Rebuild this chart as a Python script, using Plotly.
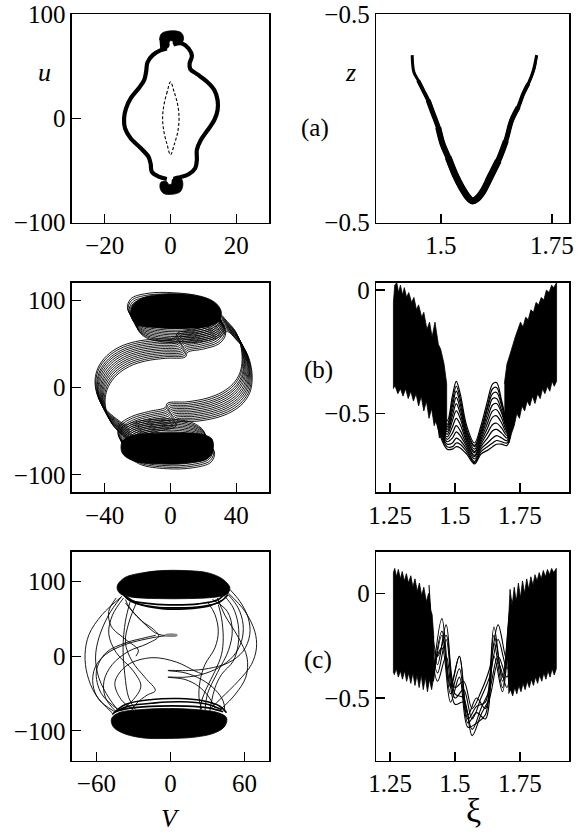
import plotly.graph_objects as go

FONT = "Liberation Serif"

# ---------------- panel (a) left : u vs V ----------------
a_loop_right_V = [0.9, 3.5, 5.5, 6.5, 5.8, 6.0, 8.2, 11.1, 13.3, 14.3, 14.3, 13.3, 11.3, 9.2, 8.0, 8.0, 7.5, 5.5, 2.4, 0.9]
a_loop_right_u = [70.9, 71.8, 67.0, 60.0, 52.6, 47.2, 42.1, 35.1, 27.1, 17.5, 7.9, -1.6, -11.2, -20.7, -30.3, -39.9, -47.9, -53.6, -56.8, -58.1]
a_loop_left_V = [-1.1, -3.6, -5.7, -6.0, -6.7, -9.0, -12.1, -13.8, -14.1, -13.5, -12.1, -9.7, -8.0, -7.4, -7.0, -5.4, -3.1, -1.1]
a_loop_left_u = [-58.1, -55.9, -51.1, -44.0, -36.7, -28.7, -19.1, -9.6, 0.0, 9.6, 19.1, 28.7, 36.7, 44.7, 53.6, 60.6, 65.1, 67.0]
a_cap_top_V = [-3.34, -2.93, -1.61, 1.94, 3.46, 3.97, 3.16, 0.92, 0.72, -0.29, -0.50, -1.61, -3.14]
a_cap_top_u = [75.0, 80.4, 83.0, 83.6, 81.4, 76.0, 71.8, 70.9, 74.0, 74.0, 68.6, 66.4, 67.0]
a_cap_bot_V = [0.42, 1.43, 3.16, 3.76, 2.95, 0.42, -2.12, -3.14, -2.93, -1.11, -0.60, 0.21]
a_cap_bot_u = [-59.1, -56.9, -57.5, -63.2, -70.3, -72.8, -71.9, -67.1, -61.3, -60.7, -63.2, -63.2]
a_lens_V = [0.0, -1.0, -2.0, -2.4, -2.0, -1.0, 0.0, 1.1, 2.2, 2.6, 2.2, 1.1, 0.0]
a_lens_u = [35.0, 25.5, 12.7, 0.0, -12.8, -25.5, -35.0, -25.5, -12.8, 0.0, 12.7, 25.5, 35.0]

# ---------------- panel (a) right : z vs xi ----------------
a_band_xi = [1.4354, 1.4392, 1.4489, 1.4602, 1.4715, 1.4827, 1.4940, 1.5038, 1.5165, 1.5315, 1.5466, 1.5616, 1.5713,
             1.5803, 1.5953, 1.6104, 1.6291, 1.6464, 1.6592, 1.6742, 1.6854, 1.6967, 1.7080, 1.7155]
a_band_z = [0.303, 0.222, 0.182, 0.134, 0.086, 0.022, -0.043, -0.123, -0.187, -0.267, -0.331, -0.380, -0.396,
            -0.387, -0.347, -0.283, -0.203, -0.107, -0.010, 0.054, 0.118, 0.166, 0.230, 0.303]
a_strand_xi = [1.6464, 1.6600, 1.6740, 1.6880, 1.7000, 1.7120, 1.7165]
a_strand_z = [-0.100, -0.020, 0.045, 0.120, 0.170, 0.240, 0.300]

# ---------------- panel (b) left : u vs V ----------------
b_strand_V = [-23.5, -31.6, -38.1, -41.8, -42.8, -40.8, -35.7, -28.0, -18.4, -6.3, 5.9, 7.3,
              17.0, 26.2, 30.2, 29.2, 21.1, 4.9, -11.3, -21.1, -23.1, -18.4, -5.3, 13.0, 26.2, 31.3,
              37.3, 42.4, 45.5, 46.5, 45.1, 41.0, 34.3, 25.2, 13.0, 1.2, -0.2,
              -10.3, -20.5, -28.0, -28.6, -21.5, -5.3, 11.0, 21.5, 23.6, 18.1, 4.9, -11.3, -21.5, -23.5]
b_strand_u = [-54.0, -44.4, -32.2, -17.6, -2.3, 12.2, 25.2, 35.2, 41.3, 44.4, 45.9, 51.3,
              55.1, 60.9, 70.5, 82.0, 92.7, 97.3, 96.5, 90.4, 78.9, 68.5, 62.8, 62.8, 68.5, 75.0,
              64.7, 53.2, 37.9, 20.7, 5.3, -6.9, -16.5, -23.4, -27.6, -29.1, -34.1,
              -38.7, -44.4, -54.0, -66.6, -77.0, -82.0, -80.8, -74.5, -63.0, -53.0, -47.5, -48.3, -52.1, -54.0]
b_strand_dV = [3.1, 2.6, 2.0, 1.5, 1.0, 0.5, 0.0, -0.6, -1.1, -1.6, -2.0, -2.6, -3.0]
b_strand_du = [-11.0, -9.2, -7.4, -5.5, -3.7, -1.8, 0.0, 1.9, 3.7, 5.6, 7.4, 9.3, 11.2]
b_top_blob_V = [-22.5, -16.4, -4.2, 9.0, 21.1, 28.2, 30.9, 29.2, 23.2, 9.0, -7.3, -19.5, -23.5, -23.9, -22.5]
b_top_blob_u = [95.4, 103.0, 106.9, 106.9, 103.0, 95.4, 85.8, 76.2, 70.2, 67.7, 68.5, 71.5, 79.0, 88.8, 95.4]
b_bot_blob_V = [-29.2, -23.5, -11.3, 4.9, 19.1, 25.2, 25.6, 22.1, 9.0, -7.3, -21.5, -28.6, -30.0, -29.2]
b_bot_blob_u = [-61.6, -55.2, -52.5, -51.8, -53.7, -59.0, -73.2, -82.0, -86.6, -87.4, -84.7, -77.0, -70.5, -61.6]

# ---------------- panel (b) right : z vs xi ----------------
bR_left_xi = [1.263, 1.263, 1.268, 1.276, 1.283, 1.290, 1.298, 1.305, 1.314, 1.322, 1.333, 1.342, 1.352, 1.360, 1.372,
              1.380, 1.392, 1.402, 1.412, 1.423, 1.436, 1.445, 1.458, 1.468,
              1.468, 1.458, 1.448, 1.440, 1.430, 1.420, 1.410, 1.400, 1.390, 1.380, 1.370, 1.360, 1.350, 1.340,
              1.330, 1.320, 1.310, 1.300, 1.290, 1.280, 1.270]
bR_left_z = [-0.40, -0.05, 0.02, 0.03, -0.01, 0.02, -0.02, 0.01, -0.03, -0.01, -0.05, -0.03, -0.08, -0.06, -0.11,
             -0.09, -0.16, -0.13, -0.19, -0.13, -0.22, -0.24, -0.30, -0.38,
             -0.56, -0.62, -0.57, -0.60, -0.52, -0.55, -0.48, -0.52, -0.45, -0.49, -0.43, -0.47, -0.42, -0.45,
             -0.41, -0.44, -0.40, -0.43, -0.40, -0.42, -0.39]
bR_right_xi = [1.690, 1.700, 1.712, 1.722, 1.732, 1.742, 1.752, 1.762, 1.772, 1.782, 1.792, 1.802, 1.812, 1.822,
               1.832, 1.842, 1.852, 1.862, 1.872, 1.880, 1.891, 1.891,
               1.882, 1.874, 1.865, 1.856, 1.846, 1.837, 1.828, 1.818, 1.808, 1.798, 1.788, 1.778, 1.768, 1.758,
               1.748, 1.738, 1.728, 1.718, 1.708, 1.698, 1.690]
bR_right_z = [-0.38, -0.30, -0.26, -0.22, -0.19, -0.16, -0.13, -0.15, -0.11, -0.12, -0.08, -0.09, -0.05, -0.06,
              -0.03, -0.04, 0.00, -0.01, 0.02, 0.01, 0.03, -0.37,
              -0.39, -0.37, -0.41, -0.39, -0.42, -0.40, -0.44, -0.42, -0.46, -0.43, -0.47, -0.45, -0.49, -0.47,
              -0.52, -0.50, -0.55, -0.58, -0.62, -0.57, -0.50]
bR_family_xi = [1.42, 1.45, 1.47, 1.49, 1.505, 1.52, 1.545, 1.575, 1.60, 1.625, 1.645, 1.66, 1.68, 1.70, 1.72]
bR_family_z = [
    [-0.38, -0.50, -0.53, -0.43, -0.37, -0.42, -0.55, -0.62, -0.55, -0.45, -0.38, -0.375, -0.45, -0.53, -0.42],
    [-0.40, -0.51, -0.545, -0.45, -0.39, -0.44, -0.565, -0.63, -0.565, -0.47, -0.40, -0.395, -0.46, -0.54, -0.43],
    [-0.41, -0.52, -0.555, -0.47, -0.41, -0.46, -0.575, -0.635, -0.575, -0.48, -0.42, -0.415, -0.47, -0.55, -0.44],
    [-0.42, -0.53, -0.565, -0.49, -0.435, -0.48, -0.585, -0.645, -0.585, -0.50, -0.44, -0.44, -0.49, -0.555, -0.45],
    [-0.43, -0.54, -0.575, -0.51, -0.46, -0.50, -0.595, -0.655, -0.595, -0.52, -0.465, -0.46, -0.50, -0.56, -0.46],
    [-0.44, -0.55, -0.585, -0.53, -0.49, -0.52, -0.605, -0.66, -0.605, -0.54, -0.49, -0.485, -0.52, -0.57, -0.47],
    [-0.45, -0.56, -0.595, -0.555, -0.52, -0.545, -0.615, -0.67, -0.615, -0.56, -0.515, -0.51, -0.54, -0.58, -0.48],
    [-0.46, -0.57, -0.605, -0.58, -0.55, -0.57, -0.625, -0.675, -0.625, -0.58, -0.545, -0.54, -0.56, -0.59, -0.49],
    [-0.47, -0.58, -0.615, -0.60, -0.575, -0.59, -0.635, -0.685, -0.635, -0.60, -0.57, -0.565, -0.58, -0.60, -0.50],
    [-0.48, -0.59, -0.625, -0.62, -0.60, -0.61, -0.645, -0.695, -0.645, -0.62, -0.60, -0.59, -0.60, -0.61, -0.51],
    [-0.49, -0.60, -0.635, -0.635, -0.62, -0.625, -0.655, -0.70, -0.655, -0.635, -0.62, -0.61, -0.615, -0.62, -0.52],
    [-0.50, -0.61, -0.645, -0.645, -0.635, -0.64, -0.665, -0.705, -0.665, -0.65, -0.635, -0.625, -0.625, -0.63, -0.53],
]

# ---------------- panel (c) left : u vs V ----------------
c_curves_V = [
    [-39.2, -55.3, -66.0, -69.2, -67.4, -60.7, -47.2],
    [46.7, 60.2, 68.2, 69.6, 65.5, 54.8, 41.3, 33.3],
    [48.1, 56.1, 62.9, 64.2, 58.8, 46.7, 30.6, 14.5, -2.1, 11.8, 25.2, 36.0, 42.7, 44.0],
    [46.7, 54.8, 58.8, 57.5, 50.8, 38.7, 25.2, 11.8, -2.1, 11.8, 22.6, 30.6, 36.0],
    [44.0, 50.8, 54.8, 54.8, 50.8, 41.3, 36.0, 33.3, 31.9],
    [-45.9, -58.0, -62.8, -61.2, -52.6, -36.5, -17.7, -4.3, 3.8, -7.0, -12.3, -19.0, -27.1, -33.8, -36.5],
    [-44.5, -52.6, -53.9, -47.2, -33.8, -19.0, -9.6, -13.6, -23.1, -31.1, -36.5],
    [-40.5, -49.9, -58.0, -60.7, -58.0, -49.9, -41.9],
    [-32.4, -36.5, -38.4, -37.0, -33.8, -28.4],
    [-27.1, -33.8, -36.5, -31.1, -20.4, -12.3, -19.0, -27.1, -31.1],
    [38.7, 41.3, 42.7, 41.3, 36.0, 29.3, 25.2, 23.9],
    [30.6, 36.0, 38.7, 36.0, 27.9, 23.9, 23.1, 25.2],
    [-42.0, -56.0, -60.0, -52.0, -36.0, -20.0, -12.0],
    [40.0, 52.0, 61.0, 62.0, 55.0, 44.0, 38.0],
    [-38.0, -47.0, -50.0, -44.0, -30.0, -24.0, -30.0, -40.0],
    [-30.0, -40.0, -45.0, -35.0, -15.0, 5.0, 20.0, 26.0],
    [34.0, 46.0, 50.0, 47.0, 38.0, 30.0, 28.0],
    [-44.0, -50.0, -48.0, -36.0, -26.0, -28.0],
]
c_curves_u = [
    [80.3, 55.8, 29.0, 2.3, -24.5, -51.3, -75.9],
    [84.8, 60.3, 33.5, 11.2, -11.2, -33.5, -55.8, -69.2],
    [89.3, 73.7, 51.4, 29.0, 6.7, -8.9, -16.5, -19.2, -19.2, -22.3, -31.2, -44.6, -60.2, -73.6],
    [82.6, 64.7, 42.4, 20.1, 0.0, -15.6, -24.5, -28.1, -28.1, -31.2, -40.2, -53.5, -69.2],
    [80.3, 64.7, 42.4, 15.7, -6.6, -24.5, -42.4, -60.2, -73.6],
    [-73.6, -58.0, -37.9, -15.6, 2.3, 15.7, 23.7, 27.3, 28.2, 28.2, 31.3, 40.2, 53.6, 66.9, 75.9],
    [-73.6, -55.8, -33.5, -11.2, 6.7, 16.6, 26.8, 35.7, 46.9, 60.3, 71.4],
    [78.1, 55.8, 24.6, -2.2, -29.0, -55.8, -73.6],
    [74.6, 46.9, 11.2, -24.5, -55.8, -71.4],
    [73.7, 44.6, 17.9, -6.7, -29.0, -46.0, -52.2, -62.5, -71.4],
    [69.2, 51.4, 24.6, 2.3, -20.1, -42.4, -60.2, -73.6],
    [71.4, 55.8, 33.5, 11.2, -11.2, -33.5, -55.8, -71.4],
    [-72.0, -50.0, -20.0, 5.0, 18.0, 25.0, 28.0],
    [-72.0, -52.0, -28.0, -2.0, 25.0, 55.0, 78.0],
    [78.0, 55.0, 30.0, 5.0, -20.0, -40.0, -58.0, -72.0],
    [-72.0, -58.0, -35.0, -12.0, -2.0, -8.0, -20.0, -24.0],
    [76.0, 60.0, 35.0, 8.0, -22.0, -50.0, -72.0],
    [78.0, 60.0, 40.0, 22.0, 8.0, 0.0],
]
c_rings_V = [
    [-40.5, -33.8, -15.0, 3.8, 22.6, 38.7, 45.4],
    [-39.2, -31.1, -12.3, 6.5, 25.2, 40.0, 46.7],
    [-36.5, -25.7, -7.0, 11.8, 30.6, 41.3],
    [-47.2, -36.5, -15.0, 6.5, 25.2, 40.0, 45.4],
    [-45.9, -33.8, -12.3, 9.1, 27.9, 41.5],
    [-44.6, -31.1, -9.6, 11.8, 30.6, 42.7],
]
c_rings_u = [
    [89.3, 75.9, 70.1, 68.7, 70.1, 75.9, 87.1],
    [84.8, 72.8, 66.0, 64.7, 66.5, 72.8, 82.6],
    [80.3, 70.1, 63.8, 63.4, 66.9, 74.5],
    [-78.1, -64.7, -58.0, -56.7, -59.4, -67.0, -75.8],
    [-75.8, -66.9, -62.5, -61.1, -63.8, -71.4],
    [-73.7, -69.2, -66.9, -66.9, -69.2, -74.5],
]
c_spot_V = [-4.0, 0.5, 5.0, 0.5, -4.0]
c_spot_u = [28.2, 29.4, 28.2, 27.0, 28.2]
c_top_blob_V = [-42.4, -36.5, -23.1, -7.0, 11.8, 30.6, 42.7, 48.1, 45.4, 36.0, 14.5, -9.6, -31.1, -40.5, -43.2, -42.4]
c_top_blob_u = [96.9, 105.8, 111.6, 114.7, 114.7, 111.6, 102.7, 91.5, 82.6, 79.1, 77.2, 77.2, 79.1, 83.5, 90.6, 96.9]
c_bot_blob_V = [-47.7, -41.9, -23.1, -1.6, 19.9, 38.7, 45.4, 44.0, 36.0, 19.9, -1.6, -23.1, -39.2, -46.7, -47.7]
c_bot_blob_u = [-83.4, -75.8, -71.4, -70.0, -71.4, -75.8, -82.5, -93.7, -102.6, -108.4, -110.2, -109.3, -102.6, -93.7, -83.4]

# ---------------- panel (c) right : z vs xi ----------------
cR_left_xi = [1.263, 1.263, 1.268, 1.275, 1.282, 1.290, 1.297, 1.305, 1.313, 1.321, 1.330, 1.338, 1.346, 1.355, 1.363,
              1.372, 1.380, 1.390, 1.398, 1.406, 1.412, 1.418,
              1.418, 1.410, 1.402, 1.394, 1.386, 1.378, 1.370, 1.362, 1.354, 1.346, 1.338, 1.330, 1.322, 1.314,
              1.306, 1.298, 1.290, 1.282, 1.274, 1.266]
cR_left_z = [-0.38, 0.10, 0.12, 0.08, 0.115, 0.07, 0.105, 0.06, 0.095, 0.05, 0.085, 0.03, 0.07, 0.01, 0.05,
             -0.01, 0.03, -0.04, 0.00, -0.08, -0.10, -0.20,
             -0.40, -0.46, -0.41, -0.47, -0.40, -0.46, -0.39, -0.45, -0.39, -0.44, -0.38, -0.43, -0.38, -0.42,
             -0.37, -0.41, -0.37, -0.40, -0.36, -0.39]
cR_right_xi = [1.700, 1.706, 1.712, 1.720, 1.728, 1.736, 1.744, 1.752, 1.760, 1.768, 1.776, 1.784, 1.792, 1.800,
               1.808, 1.816, 1.824, 1.832, 1.840, 1.848, 1.856, 1.864, 1.872, 1.880, 1.890, 1.890,
               1.882, 1.874, 1.866, 1.858, 1.850, 1.842, 1.834, 1.826, 1.818, 1.810, 1.802, 1.794, 1.786, 1.778,
               1.770, 1.762, 1.754, 1.746, 1.738, 1.730, 1.722, 1.714, 1.706]
cR_right_z = [-0.30, -0.10, 0.02, -0.06, 0.03, -0.04, 0.05, -0.02, 0.06, 0.00, 0.07, 0.02, 0.08, 0.04,
              0.09, 0.06, 0.10, 0.07, 0.11, 0.08, 0.115, 0.09, 0.12, 0.10, 0.12, -0.36,
              -0.39, -0.36, -0.40, -0.37, -0.41, -0.38, -0.42, -0.39, -0.43, -0.40, -0.44, -0.41, -0.45, -0.42,
              -0.46, -0.43, -0.47, -0.44, -0.48, -0.45, -0.49, -0.46, -0.48]
cR_gridA_xi = [1.400, 1.433, 1.466, 1.500, 1.533, 1.566, 1.600, 1.633, 1.666, 1.700, 1.733, 1.766]
cR_famA_z = [
    [0.00, -0.34, -0.15, -0.45, -0.42, -0.55, -0.47, -0.36, -0.15, -0.32, -0.02, -0.28],
    [-0.05, -0.38, -0.22, -0.50, -0.46, -0.60, -0.50, -0.40, -0.22, -0.36, -0.06, -0.33],
    [-0.10, -0.42, -0.30, -0.53, -0.52, -0.65, -0.55, -0.46, -0.30, -0.40, -0.12, -0.37],
    [0.04, -0.30, -0.20, -0.48, -0.50, -0.68, -0.58, -0.50, -0.33, -0.45, -0.08, -0.35],
]
cR_gridB_xi = [1.417, 1.450, 1.483, 1.517, 1.550, 1.583, 1.617, 1.650, 1.683, 1.717, 1.750]
cR_famB_z = [
    [-0.38, -0.12, -0.44, -0.30, -0.58, -0.50, -0.55, -0.16, -0.42, -0.06, -0.35],
    [-0.40, -0.18, -0.48, -0.36, -0.62, -0.57, -0.60, -0.24, -0.45, -0.10, -0.38],
    [-0.35, -0.26, -0.52, -0.40, -0.64, -0.62, -0.58, -0.30, -0.47, -0.14, -0.40],
    [-0.42, -0.20, -0.45, -0.30, -0.60, -0.54, -0.52, -0.20, -0.40, -0.03, -0.36],
]

fig = go.Figure()


def ax_ids(n):
    s = "" if n == 1 else str(n)
    return "x" + s, "y" + s


def line(n, xs, ys, width=1.0, color="black", dash=None, shape="spline"):
    xa, ya = ax_ids(n)
    fig.add_trace(go.Scatter(x=xs, y=ys, xaxis=xa, yaxis=ya, mode="lines",
                             line=dict(color=color, width=width, dash=dash, shape=shape),
                             hoverinfo="skip", showlegend=False))


def fill(n, xs, ys, shape="linear"):
    xa, ya = ax_ids(n)
    fig.add_trace(go.Scatter(x=xs, y=ys, xaxis=xa, yaxis=ya, mode="lines", fill="toself",
                             fillcolor="black", line=dict(color="black", width=0.8, shape=shape),
                             hoverinfo="skip", showlegend=False))


# (a) left
line(1, a_loop_right_V, a_loop_right_u, width=4.2)
line(1, a_loop_left_V, a_loop_left_u, width=4.2)
fill(1, a_cap_top_V, a_cap_top_u, shape="spline")
fill(1, a_cap_bot_V, a_cap_bot_u, shape="spline")
line(1, a_lens_V, a_lens_u, width=1.1, dash="3px,2px")

# (a) right : band thins toward the arm tips
line(2, a_band_xi, a_band_z, width=3.0)
line(2, a_band_xi[2:22], a_band_z[2:22], width=4.0)
line(2, a_band_xi[4:20], a_band_z[4:20], width=5.0)
line(2, a_band_xi[6:18], a_band_z[6:18], width=6.0)
line(2, a_band_xi[8:17], a_band_z[8:17], width=7.0)
line(2, a_strand_xi, a_strand_z, width=1.2)

# (b) left
for dv, du in zip(b_strand_dV, b_strand_du):
    line(3, [v + dv for v in b_strand_V], [u + du for u in b_strand_u], width=0.9)
fill(3, b_top_blob_V, b_top_blob_u, shape="spline")
fill(3, b_bot_blob_V, b_bot_blob_u, shape="spline")

# (b) right
for zs in bR_family_z:
    line(4, bR_family_xi, zs, width=1.2)
fill(4, bR_left_xi, bR_left_z)
fill(4, bR_right_xi, bR_right_z)

# (c) left
for vs, us in zip(c_rings_V, c_rings_u):
    line(5, vs, us, width=1.6)
for vs, us in zip(c_curves_V, c_curves_u):
    line(5, vs, us, width=0.9)
line(5, c_spot_V, c_spot_u, width=2.0, color="#888888")
fill(5, c_top_blob_V, c_top_blob_u, shape="spline")
fill(5, c_bot_blob_V, c_bot_blob_u, shape="spline")

# (c) right
for zs in cR_famA_z:
    line(6, cR_gridA_xi, zs, width=1.1)
for zs in cR_famB_z:
    line(6, cR_gridB_xi, zs, width=1.1)
fill(6, cR_left_xi, cR_left_z)
fill(6, cR_right_xi, cR_right_z)

W, H = 579, 834
colL = [71.7 / W, 269.3 / W]
colR = [376.0 / W, 569.3 / W]
rows = [[1 - 222.7 / H, 1 - 14.0 / H], [1 - 492.3 / H, 1 - 282.7 / H], [1 - 760.7 / H, 1 - 551.7 / H]]

tickfont = dict(family=FONT, size=25, color="black")


def axis(domain, rng, tickvals, ticktext, anchor):
    return dict(domain=domain, range=rng, tickvals=tickvals, ticktext=ticktext, anchor=anchor,
                showgrid=False, zeroline=False, showline=True, linecolor="black", linewidth=1.3,
                mirror=True, ticks="inside", ticklen=9, tickwidth=1.3, tickcolor="black",
                tickfont=tickfont, automargin=False, fixedrange=True)


layout = dict(width=W, height=H, margin=dict(l=0, r=0, t=0, b=0),
              paper_bgcolor="white", plot_bgcolor="white", showlegend=False)

# panel a
layout["xaxis"] = axis(colL, [-30, 30], [-20, 0, 20], ["\u221220", "0", "20"], "y")
layout["yaxis"] = axis(rows[0], [-100, 100], [-100, 0, 100], ["\u2212100", "0", "100"], "x")
layout["xaxis2"] = axis(colR, [1.354, 1.789], [1.5, 1.75], ["1.5", "1.75"], "y2")
layout["yaxis2"] = axis(rows[0], [-0.5, 0.5], [-0.5, 0.5], ["\u22120.5", "\u22120.5"], "x2")
# panel b
layout["xaxis3"] = axis(colL, [-60, 60], [-40, 0, 40], ["\u221240", "0", "40"], "y3")
layout["yaxis3"] = axis(rows[1], [-120, 120], [-100, 0, 100], ["\u2212100", "0", "100"], "x3")
layout["xaxis4"] = axis(colR, [1.196, 1.94], [1.25, 1.5, 1.75], ["1.25", "1.5", "1.75"], "y4")
layout["yaxis4"] = axis(rows[1], [-0.82, 0.03], [-0.5, 0], ["\u22120.5", "0"], "x4")
# panel c
layout["xaxis5"] = axis(colL, [-80, 80], [-60, 0, 60], ["\u221260", "0", "60"], "y5")
layout["yaxis5"] = axis(rows[2], [-140, 140], [-100, 0, 100], ["\u2212100", "0", "100"], "x5")
layout["xaxis6"] = axis(colR, [1.196, 1.94], [1.25, 1.5, 1.75], ["1.25", "1.5", "1.75"], "y6")
layout["yaxis6"] = axis(rows[2], [-0.80, 0.20], [-0.5, 0], ["\u22120.5", "0"], "x6")


def label(text, px, py, size=23):
    return dict(text=text, x=px / W, y=1 - py / H, xref="paper", yref="paper", showarrow=False,
                xanchor="center", yanchor="middle", font=dict(family=FONT, size=size, color="black"))


layout["annotations"] = [
    label("<i>u</i>", 44, 72, 26),
    label("<i>z</i>", 350, 72, 26),
    label("(a)", 315, 128, 25),
    label("(b)", 318, 370, 25),
    label("(c)", 318, 660, 25),
    label("<i>V</i>", 170, 818, 26),
    label("\u03be", 473, 810, 34),
]

fig.update_layout(**layout)
fig.write_html("out.html", config={"displayModeBar": False, "staticPlot": True},
               post_script="document.body.style.margin='0';document.body.style.padding='0';"
                           "document.documentElement.style.overflow='hidden';")
